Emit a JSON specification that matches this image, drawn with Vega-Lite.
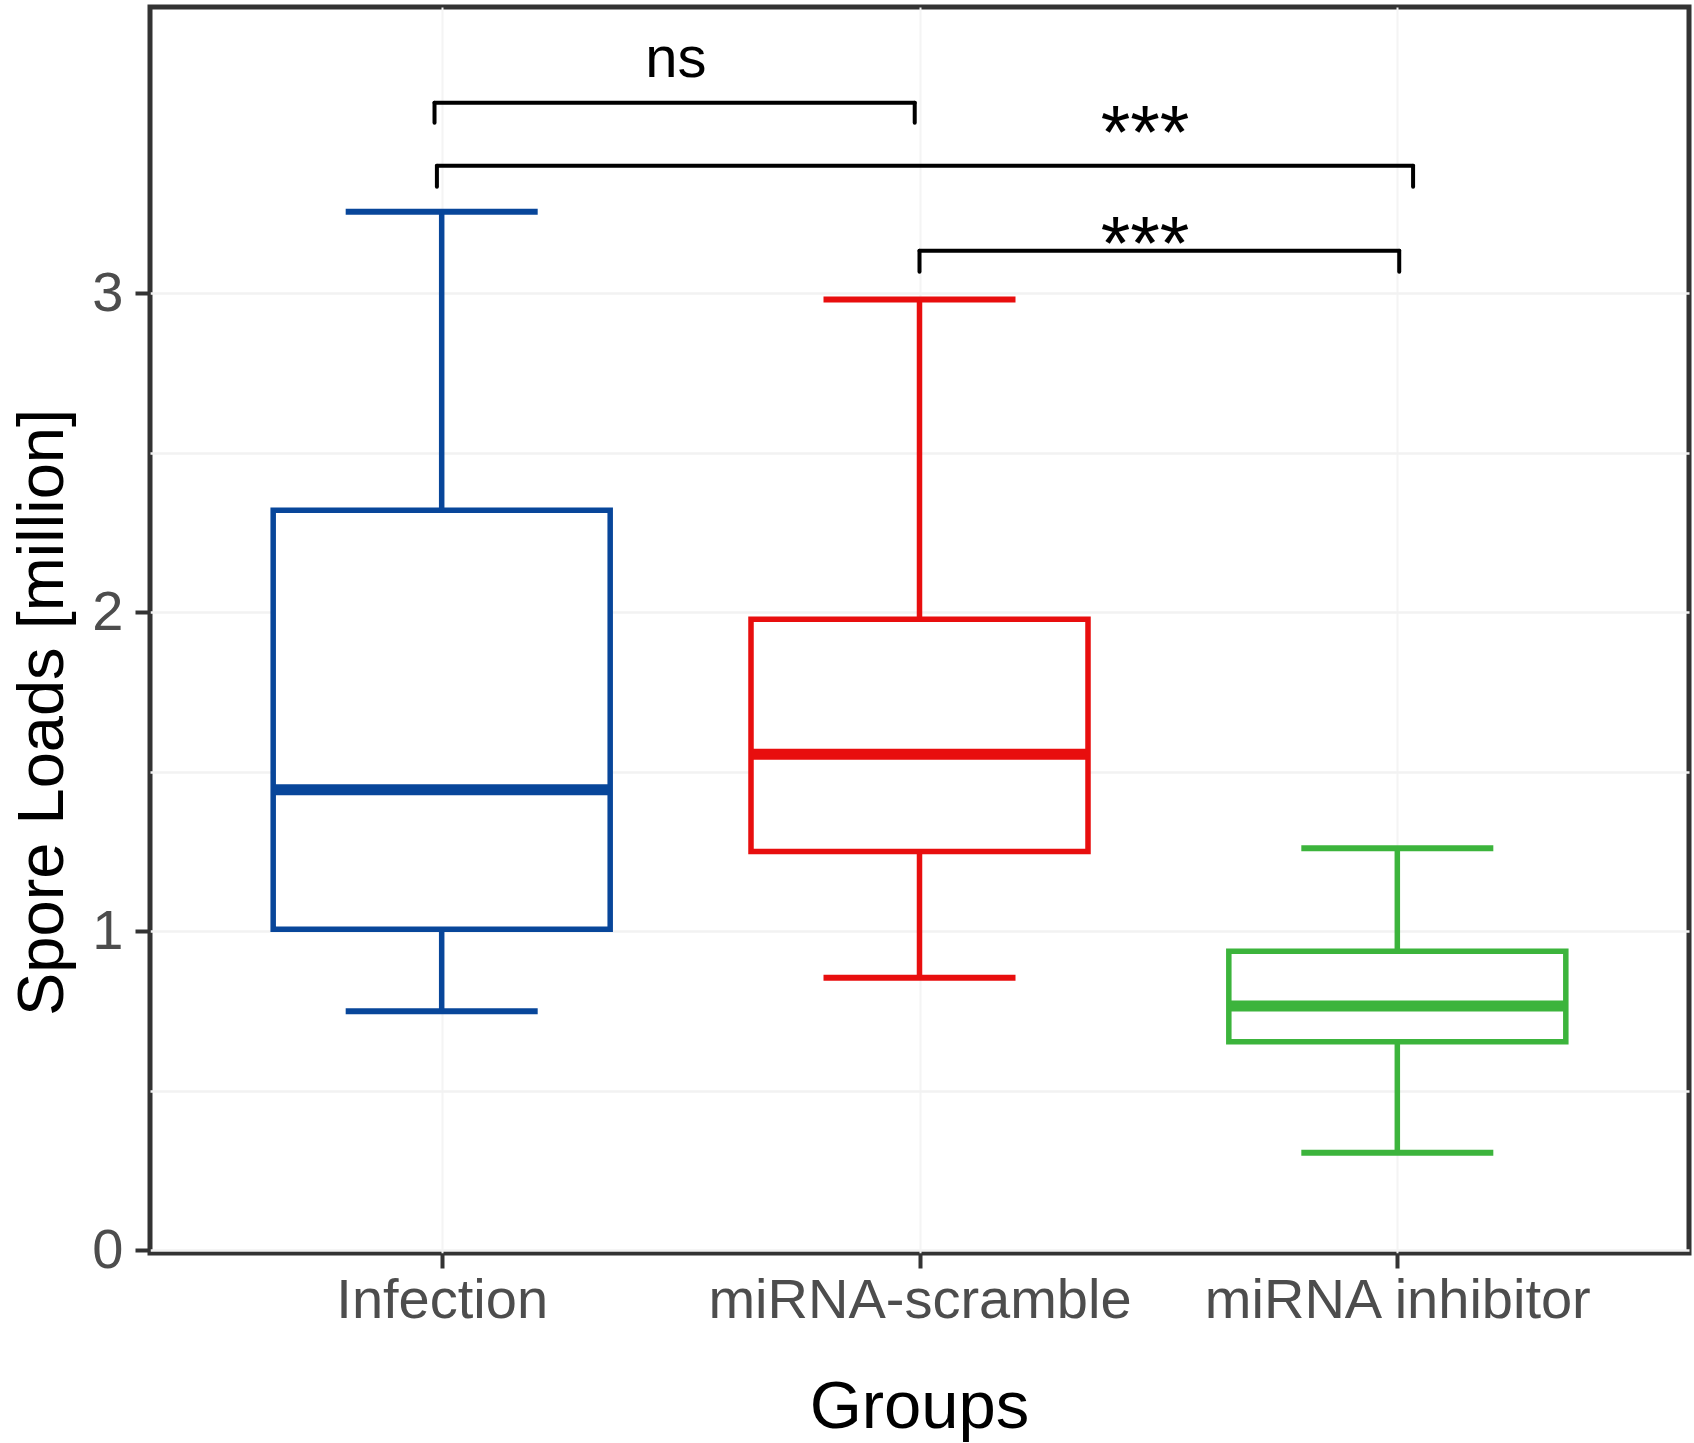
{
  "$schema": "https://vega.github.io/schema/vega-lite/v6.json",
  "width": 1539,
  "height": 1246,
  "autosize": {"type": "none"},
  "padding": {"left": 150, "top": 7, "right": 5, "bottom": 190},
  "background": "white",
  "config": {
    "view": {"stroke": "#333333", "strokeWidth": 5},
    "font": "Liberation Sans"
  },
  "datasets": {
    "boxes": [
      {"group": "Infection", "pos": 1, "lower": 0.749, "q1": 1.006, "median": 1.443, "q3": 2.320, "upper": 3.256},
      {"group": "miRNA-scramble", "pos": 2, "lower": 0.854, "q1": 1.250, "median": 1.555, "q3": 1.978, "upper": 2.981},
      {"group": "miRNA inhibitor", "pos": 3, "lower": 0.305, "q1": 0.653, "median": 0.765, "q3": 0.937, "upper": 1.260}
    ],
    "brackets": [
      {"x1": 0.985, "x2": 1.990, "y": 3.598, "yend": 3.535},
      {"x1": 0.990, "x2": 3.033, "y": 3.400, "yend": 3.334},
      {"x1": 2.000, "x2": 3.004, "y": 3.134, "yend": 3.068}
    ],
    "ns": [{"label": "ns", "x": 1.49, "y": 3.68}],
    "stars": [
      {"label": "***", "x": 2.472, "y": 3.423},
      {"label": "***", "x": 2.472, "y": 3.075}
    ]
  },
  "layer": [
    {
      "data": {"name": "boxes"},
      "mark": {"type": "rule", "strokeWidth": 5.5},
      "encoding": {
        "x": {
          "field": "pos", "type": "quantitative",
          "scale": {"domain": [0.4, 3.6], "nice": false, "zero": false},
          "axis": {
            "values": [1, 2, 3],
            "labelExpr": "datum.value == 1 ? 'Infection' : datum.value == 2 ? 'miRNA-scramble' : 'miRNA inhibitor'",
            "title": "Groups",
            "domain": false,
            "tickSize": 15, "tickWidth": 4, "tickColor": "#333333",
            "labelFontSize": 56, "labelColor": "#4D4D4D", "labelPadding": 5,
            "labelAngle": 0, "labelOverlap": false, "labelFlush": false, "labelLimit": 0,
            "titleFontSize": 67, "titleFontWeight": "normal", "titleColor": "black",
            "titleX": 769, "titleY": 174, "titleBaseline": "alphabetic", "titleAlign": "center",
            "grid": true, "gridColor": "#F4F4F4", "gridWidth": 2
          }
        },
        "y": {
          "field": "lower", "type": "quantitative",
          "scale": {"domain": [-0.0094, 3.898], "nice": false, "zero": false},
          "axis": {
            "values": [0, 0.5, 1, 1.5, 2, 2.5, 3],
            "labelExpr": "datum.value % 1 == 0 ? '' + datum.value : ''",
            "tickOpacity": {"condition": {"test": "datum.value % 1 != 0", "value": 0}, "value": 1},
            "title": "Spore Loads [million]",
            "domain": false,
            "tickSize": 15, "tickWidth": 4, "tickColor": "#333333",
            "labelFontSize": 56, "labelColor": "#4D4D4D", "labelPadding": 12,
            "titleFontSize": 65, "titleFontWeight": "normal", "titleColor": "black",
            "titleAngle": 270, "titleX": -88, "titleY": 705,
            "titleBaseline": "alphabetic", "titleAlign": "center",
            "grid": true, "gridColor": "#F2F2F2", "gridWidth": 2.5
          }
        },
        "y2": {"field": "upper"},
        "color": {
          "field": "group", "type": "nominal", "legend": null,
          "scale": {"domain": ["Infection", "miRNA-scramble", "miRNA inhibitor"], "range": ["#08469A", "#E80E0E", "#3CB43C"]}
        }
      }
    },
    {
      "data": {"name": "boxes"},
      "mark": {"type": "tick", "orient": "horizontal", "size": 192, "thickness": 6, "opacity": 1},
      "encoding": {
        "x": {"field": "pos", "type": "quantitative"},
        "y": {"field": "upper", "type": "quantitative"},
        "color": {"field": "group", "type": "nominal", "legend": null}
      }
    },
    {
      "data": {"name": "boxes"},
      "mark": {"type": "tick", "orient": "horizontal", "size": 192, "thickness": 6, "opacity": 1},
      "encoding": {
        "x": {"field": "pos", "type": "quantitative"},
        "y": {"field": "lower", "type": "quantitative"},
        "color": {"field": "group", "type": "nominal", "legend": null}
      }
    },
    {
      "data": {"name": "boxes"},
      "mark": {"type": "bar", "fill": "white", "strokeWidth": 5.5, "width": 337},
      "encoding": {
        "x": {"field": "pos", "type": "quantitative"},
        "y": {"field": "q1", "type": "quantitative"},
        "y2": {"field": "q3"},
        "stroke": {
          "field": "group", "type": "nominal", "legend": null,
          "scale": {"domain": ["Infection", "miRNA-scramble", "miRNA inhibitor"], "range": ["#08469A", "#E80E0E", "#3CB43C"]}
        }
      }
    },
    {
      "data": {"name": "boxes"},
      "mark": {"type": "tick", "orient": "horizontal", "size": 337, "thickness": 11, "opacity": 1},
      "encoding": {
        "x": {"field": "pos", "type": "quantitative"},
        "y": {"field": "median", "type": "quantitative"},
        "color": {"field": "group", "type": "nominal", "legend": null}
      }
    },
    {
      "data": {"name": "brackets"},
      "mark": {"type": "rule", "color": "black", "strokeWidth": 4, "strokeCap": "round"},
      "encoding": {
        "x": {"field": "x1", "type": "quantitative"},
        "x2": {"field": "x2"},
        "y": {"field": "y", "type": "quantitative"}
      }
    },
    {
      "data": {"name": "brackets"},
      "mark": {"type": "rule", "color": "black", "strokeWidth": 4, "strokeCap": "round"},
      "encoding": {
        "x": {"field": "x1", "type": "quantitative"},
        "y": {"field": "y", "type": "quantitative"},
        "y2": {"field": "yend"}
      }
    },
    {
      "data": {"name": "brackets"},
      "mark": {"type": "rule", "color": "black", "strokeWidth": 4, "strokeCap": "round"},
      "encoding": {
        "x": {"field": "x2", "type": "quantitative"},
        "y": {"field": "y", "type": "quantitative"},
        "y2": {"field": "yend"}
      }
    },
    {
      "data": {"name": "ns"},
      "mark": {"type": "text", "font": "Liberation Sans Narrow, Liberation Sans", "fontSize": 58, "color": "black", "align": "center", "baseline": "alphabetic"},
      "encoding": {
        "x": {"field": "x", "type": "quantitative"},
        "y": {"field": "y", "type": "quantitative"},
        "text": {"field": "label"}
      }
    },
    {
      "data": {"name": "stars"},
      "mark": {"type": "text", "font": "Liberation Sans", "fontSize": 76, "color": "black", "align": "center", "baseline": "alphabetic"},
      "encoding": {
        "x": {"field": "x", "type": "quantitative"},
        "y": {"field": "y", "type": "quantitative"},
        "text": {"field": "label"}
      }
    }
  ]
}
